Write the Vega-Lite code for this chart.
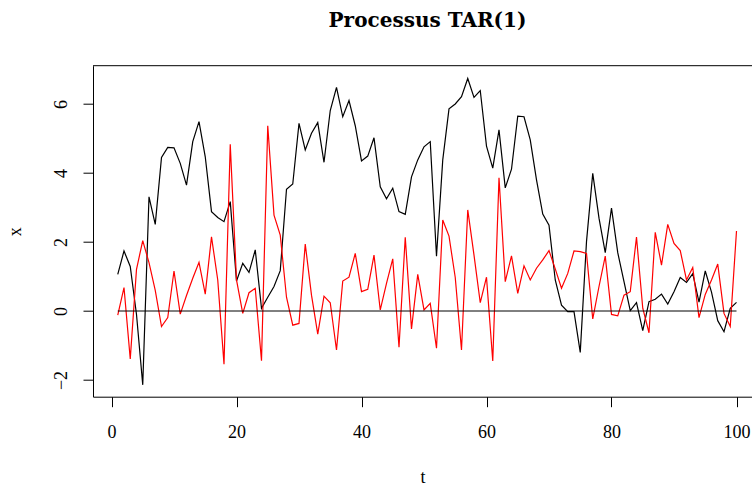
{
  "$schema": "https://vega.github.io/schema/vega-lite/v6.json",
  "autosize": {"type": "none"},
  "padding": {"left": 93, "top": 65.7, "right": 0, "bottom": 89.3},
  "width": 659,
  "height": 331,
  "background": "white",
  "config": {
    "view": {"stroke": null},
    "axis": {
      "grid": false, "domainColor": "black", "domainWidth": 1, "tickColor": "black", "tickWidth": 1, "tickSize": 10,
      "labelFont": "Liberation Serif", "labelFontSize": 18, "labelColor": "black", "labelFlush": false,
      "titleFont": "Liberation Serif", "titleFontSize": 18, "titleFontWeight": "normal", "titleColor": "black"
    },
    "axisX": {"labelPadding": 17, "titlePadding": 27},
    "axisY": {"labelPadding": 13, "labelAngle": 270, "titlePadding": 28}
  },
  "title": {
    "text": "Processus TAR(1)",
    "font": "DejaVu Serif",
    "fontSize": 20,
    "fontWeight": "bold",
    "color": "black",
    "anchor": "middle",
    "frame": "group",
    "baseline": "alphabetic",
    "offset": 17.7,
    "dx": 5
  },
  "data": {
    "values": [
      {"t":1,"x":1.06,"y":-0.12},{"t":2,"x":1.74,"y":0.68},{"t":3,"x":1.29,"y":-1.39},{"t":4,"x":-0.1,"y":1.21},{"t":5,"x":-2.14,"y":2.04},
      {"t":6,"x":3.31,"y":1.4},{"t":7,"x":2.51,"y":0.6},{"t":8,"x":4.45,"y":-0.45},{"t":9,"x":4.74,"y":-0.19},{"t":10,"x":4.73,"y":1.16},
      {"t":11,"x":4.28,"y":-0.09},{"t":12,"x":3.65,"y":0.45},{"t":13,"x":4.91,"y":0.95},{"t":14,"x":5.49,"y":1.41},{"t":15,"x":4.47,"y":0.49},
      {"t":16,"x":2.88,"y":2.15},{"t":17,"x":2.71,"y":0.9},{"t":18,"x":2.59,"y":-1.54},{"t":19,"x":3.17,"y":4.83},{"t":20,"x":0.87,"y":0.9},
      {"t":21,"x":1.38,"y":-0.07},{"t":22,"x":1.12,"y":0.53},{"t":23,"x":1.77,"y":0.66},{"t":24,"x":0.08,"y":-1.44},{"t":25,"x":0.4,"y":5.37},
      {"t":26,"x":0.71,"y":2.78},{"t":27,"x":1.17,"y":2.2},{"t":28,"x":3.53,"y":0.4},{"t":29,"x":3.68,"y":-0.41},{"t":30,"x":5.44,"y":-0.36},
      {"t":31,"x":4.67,"y":1.94},{"t":32,"x":5.15,"y":0.46},{"t":33,"x":5.46,"y":-0.67},{"t":34,"x":4.31,"y":0.43},{"t":35,"x":5.81,"y":0.24},
      {"t":36,"x":6.48,"y":-1.13},{"t":37,"x":5.63,"y":0.87},{"t":38,"x":6.1,"y":0.98},{"t":39,"x":5.37,"y":1.67},{"t":40,"x":4.35,"y":0.56},
      {"t":41,"x":4.49,"y":0.63},{"t":42,"x":5.02,"y":1.62},{"t":43,"x":3.6,"y":0.03},{"t":44,"x":3.25,"y":0.8},{"t":45,"x":3.56,"y":1.51},
      {"t":46,"x":2.88,"y":-1.05},{"t":47,"x":2.8,"y":2.14},{"t":48,"x":3.89,"y":-0.52},{"t":49,"x":4.38,"y":1.06},{"t":50,"x":4.76,"y":0.03},
      {"t":51,"x":4.91,"y":0.22},{"t":52,"x":1.59,"y":-1.08},{"t":53,"x":4.38,"y":2.64},{"t":54,"x":5.86,"y":2.17},{"t":55,"x":6.0,"y":0.97},
      {"t":56,"x":6.21,"y":-1.13},{"t":57,"x":6.74,"y":2.93},{"t":58,"x":6.19,"y":1.62},{"t":59,"x":6.39,"y":0.24},{"t":60,"x":4.78,"y":0.98},
      {"t":61,"x":4.14,"y":-1.45},{"t":62,"x":5.25,"y":3.86},{"t":63,"x":3.57,"y":0.85},{"t":64,"x":4.11,"y":1.6},{"t":65,"x":5.65,"y":0.51},
      {"t":66,"x":5.63,"y":1.31},{"t":67,"x":4.96,"y":0.9},{"t":68,"x":3.8,"y":1.24},{"t":69,"x":2.81,"y":1.48},{"t":70,"x":2.49,"y":1.75},
      {"t":71,"x":0.9,"y":1.22},{"t":72,"x":0.17,"y":0.66},{"t":73,"x":-0.02,"y":1.09},{"t":74,"x":-0.02,"y":1.74},{"t":75,"x":-1.2,"y":1.72},
      {"t":76,"x":2.01,"y":1.67},{"t":77,"x":3.99,"y":-0.23},{"t":78,"x":2.69,"y":0.71},{"t":79,"x":1.69,"y":1.59},{"t":80,"x":2.98,"y":-0.1},
      {"t":81,"x":1.69,"y":-0.14},{"t":82,"x":0.85,"y":0.46},{"t":83,"x":0.01,"y":0.56},{"t":84,"x":0.24,"y":2.14},{"t":85,"x":-0.57,"y":0.08},
      {"t":86,"x":0.27,"y":-0.63},{"t":87,"x":0.34,"y":2.28},{"t":88,"x":0.49,"y":1.33},{"t":89,"x":0.2,"y":2.51},{"t":90,"x":0.56,"y":1.96},
      {"t":91,"x":0.97,"y":1.75},{"t":92,"x":0.83,"y":0.9},{"t":93,"x":1.08,"y":1.26},{"t":94,"x":0.26,"y":-0.19},{"t":95,"x":1.16,"y":0.48},
      {"t":96,"x":0.55,"y":0.9},{"t":97,"x":-0.28,"y":1.36},{"t":98,"x":-0.6,"y":-0.07},{"t":99,"x":0.08,"y":-0.45},{"t":100,"x":0.25,"y":2.32}
    ]
  },
  "layer": [
    {
      "mark": {"type": "line", "color": "black", "strokeWidth": 1.2},
      "encoding": {
        "x": {
          "field": "t", "type": "quantitative", "title": "t",
          "scale": {"domain": [-2.96, 102.48], "nice": false, "zero": false},
          "axis": {"values": [0, 20, 40, 60, 80, 100]}
        },
        "y": {
          "field": "x", "type": "quantitative", "title": "x",
          "scale": {"domain": [-2.484, 7.11], "nice": false, "zero": false},
          "axis": {"values": [-2, 0, 2, 4, 6]}
        }
      }
    },
    {
      "mark": {"type": "line", "color": "#FF0000", "strokeWidth": 1.2},
      "encoding": {
        "x": {"field": "t", "type": "quantitative", "title": "t", "axis": {"values": [0, 20, 40, 60, 80, 100]}},
        "y": {"field": "y", "type": "quantitative", "title": "x", "axis": {"values": [-2, 0, 2, 4, 6]}}
      }
    },
    {
      "data": {"values": [{"a": 1, "b": 100, "z": 0}]},
      "mark": {"type": "rule", "color": "black", "strokeWidth": 1},
      "encoding": {
        "x": {"field": "a", "type": "quantitative", "title": "t", "axis": {"values": [0, 20, 40, 60, 80, 100]}},
        "x2": {"field": "b"},
        "y": {"field": "z", "type": "quantitative", "title": "x", "axis": {"values": [-2, 0, 2, 4, 6]}}
      }
    },
    {
      "data": {"values": [{"a": -2.96, "b": 102.48, "z": 7.11}]},
      "mark": {"type": "rule", "color": "black", "strokeWidth": 1},
      "encoding": {
        "x": {"field": "a", "type": "quantitative", "title": "t", "axis": {"values": [0, 20, 40, 60, 80, 100]}},
        "x2": {"field": "b"},
        "y": {"field": "z", "type": "quantitative", "title": "x", "axis": {"values": [-2, 0, 2, 4, 6]}}
      }
    }
  ]
}
